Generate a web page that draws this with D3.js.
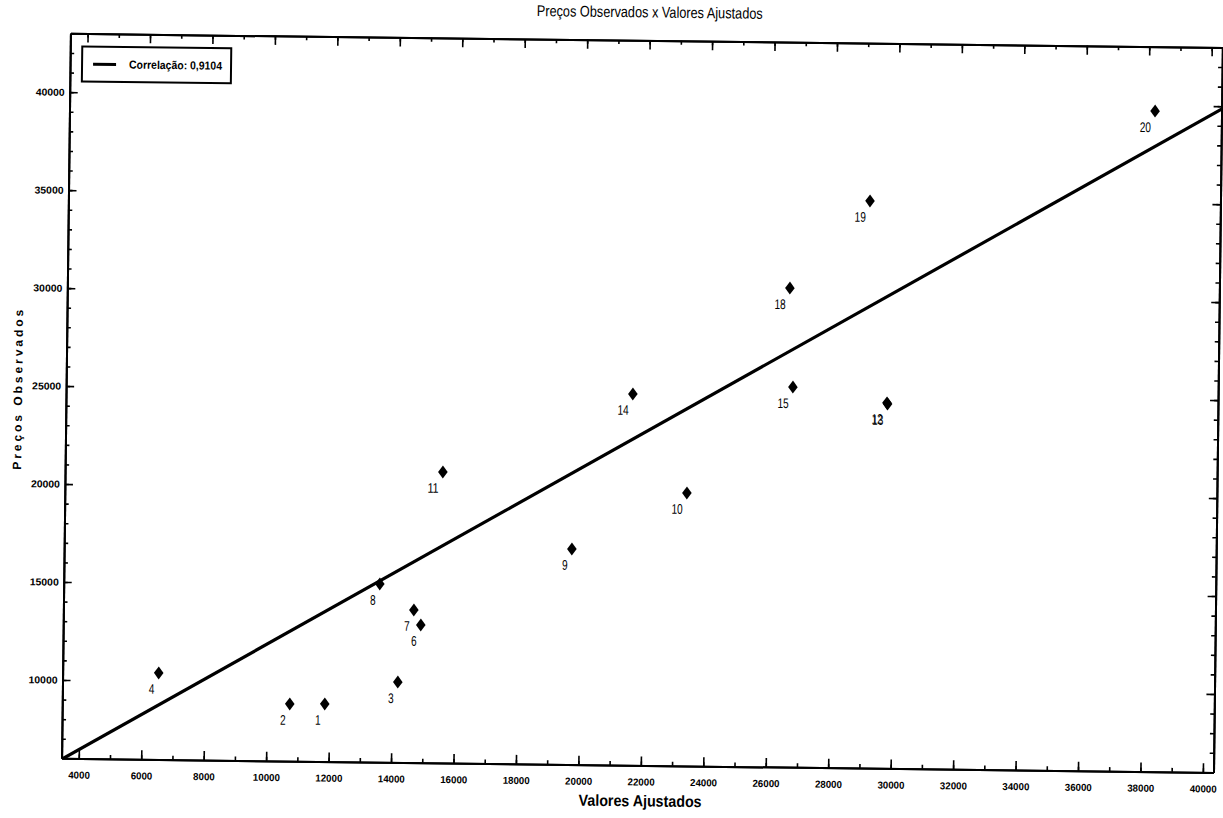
<!DOCTYPE html>
<html>
<head>
<meta charset="utf-8">
<script src="https://cdn.jsdelivr.net/npm/d3@7/dist/d3.min.js"></script>
<style>
  html, body { margin: 0; padding: 0; background: #fff; }
  svg { display: block; }
</style>
</head>
<body>
<svg id="chart" width="1223" height="818"></svg>
<script>
// ---- data ----
const pointLabels   = ["1","2","3","4","6","7","8","9","10","11","12","13","14","15","18","19","20"];
const fittedValues  = [11856,10735,14186,6527,14900,14672,13571,19708,23369,15547,29740,29760,21600,26722,26587,29118,38211];
const observedPrices= [8940,8920,10100,10420,13030,13790,15100,17000,19930,20850,24650,24600,24950,25400,30450,34950,39710];
const xTickValues   = [4000,6000,8000,10000,12000,14000,16000,18000,20000,22000,24000,26000,28000,30000,32000,34000,36000,38000,40000];
const yTickValues   = [10000,15000,20000,25000,30000,35000,40000];
const fitLineX      = [3450, 40340];
const fitLineY      = [5950, 39850];
const titleText     = "Preços Observados x Valores Ajustados";
const xTitle        = "Valores Ajustados";
const yTitle        = "Preços Observados";
const legendText    = "Correlação: 0,9104";

// ---- layout ----
const plotL = 66, plotR = 1218, plotT = 40, plotB = 765;
const FONT = "'Liberation Sans', Arial, sans-serif";

const svg = d3.select("#chart");
const g = svg.append("g").attr("transform", "rotate(0.7, 611, 400)");

const x = d3.scaleLinear().domain([3450, 40340]).range([plotL, plotR]);
const y = d3.scaleLinear().domain([6000, 43000]).range([plotB, plotT]);

const xMinor = d3.range(4000, 40001, 1000);
const yMinor = d3.range(7000, 43001, 1000);

function styleAxis(sel) {
  sel.select(".domain").attr("stroke", "#000").attr("stroke-width", 2);
  sel.selectAll(".tick line").attr("stroke", "#000").attr("stroke-width", 1.6);
}
function narrow(sel, perChar) {
  sel.attr("lengthAdjust", "spacingAndGlyphs")
     .attr("textLength", function() { return this.textContent.length * perChar; });
}

// minor ticks
g.append("g").attr("transform", `translate(0,${plotB})`)
  .call(d3.axisBottom(x).tickValues(xMinor).tickSizeInner(-4).tickSizeOuter(0).tickFormat(""))
  .call(styleAxis);
g.append("g").attr("transform", `translate(0,${plotT})`)
  .call(d3.axisTop(x).tickValues(xMinor).tickSizeInner(-4).tickSizeOuter(0).tickFormat(""))
  .call(styleAxis);
g.append("g").attr("transform", `translate(${plotL},0)`)
  .call(d3.axisLeft(y).tickValues(yMinor).tickSizeInner(-4).tickSizeOuter(0).tickFormat(""))
  .call(styleAxis);
g.append("g").attr("transform", `translate(${plotR},0)`)
  .call(d3.axisRight(y).tickValues(yMinor).tickSizeInner(-4).tickSizeOuter(0).tickFormat(""))
  .call(styleAxis);

// major ticks
const xb = g.append("g").attr("transform", `translate(0,${plotB})`)
  .call(d3.axisBottom(x).tickValues(xTickValues).tickSizeInner(-9).tickSizeOuter(0).tickFormat(d3.format("d")))
  .call(styleAxis);
g.append("g").attr("transform", `translate(0,${plotT})`)
  .call(d3.axisTop(x).tickValues(xTickValues).tickSizeInner(-9).tickSizeOuter(0).tickFormat(""))
  .call(styleAxis);
const yl = g.append("g").attr("transform", `translate(${plotL},0)`)
  .call(d3.axisLeft(y).tickValues(yTickValues).tickSizeInner(-8).tickSizeOuter(0).tickFormat(d3.format("d")))
  .call(styleAxis);
g.append("g").attr("transform", `translate(${plotR},0)`)
  .call(d3.axisRight(y).tickValues(yTickValues).tickSizeInner(-8).tickSizeOuter(0).tickFormat(""))
  .call(styleAxis);

xb.selectAll(".tick text")
  .attr("font-family", FONT).attr("font-size", 10).attr("font-weight", "bold").attr("fill", "#000")
  .attr("y", 13).call(narrow, 5.4);
yl.selectAll(".tick text")
  .attr("font-family", FONT).attr("font-size", 10).attr("font-weight", "bold").attr("fill", "#000")
  .attr("x", -5).call(narrow, 5.8);

// clip
svg.append("defs").append("clipPath").attr("id", "plotclip")
  .append("rect").attr("x", plotL).attr("y", plotT).attr("width", plotR - plotL).attr("height", plotB - plotT);

// fitted line
const lineData = fitLineX.map((v, i) => [v, fitLineY[i]]);
g.append("path")
  .attr("clip-path", "url(#plotclip)")
  .attr("d", d3.line().x(d => x(d[0])).y(d => y(d[1]))(lineData))
  .attr("stroke", "#000").attr("stroke-width", 3.2).attr("fill", "none");

// points
const pts = pointLabels.map((l, i) => ({ label: l, fx: fittedValues[i], ob: observedPrices[i] }));
const diamond = "M0,-6.5L4.8,0L0,6.5L-4.8,0Z";
g.append("g").selectAll("path").data(pts).join("path")
  .attr("d", diamond)
  .attr("transform", d => `translate(${x(d.fx)},${y(d.ob)})`)
  .attr("fill", "#000");
g.append("g").selectAll("text").data(pts).join("text")
  .attr("x", d => x(d.fx) - 4)
  .attr("y", d => y(d.ob) + 21)
  .attr("text-anchor", "end")
  .attr("font-family", FONT)
  .attr("font-size", 14)
  .attr("fill", "#000")
  .text(d => d.label)
  .call(narrow, 5.6);

// legend
const lg = g.append("g");
lg.append("rect").attr("x", 78).attr("y", 53).attr("width", 149).attr("height", 35)
  .attr("fill", "#fff").attr("stroke", "#000").attr("stroke-width", 2);
lg.append("line").attr("x1", 89).attr("x2", 112).attr("y1", 70.5).attr("y2", 70.5)
  .attr("stroke", "#000").attr("stroke-width", 3);
lg.append("text").attr("x", 125).attr("y", 74.5)
  .attr("font-family", FONT)
  .attr("font-size", 11.5).attr("font-weight", "bold").attr("fill", "#000")
  .attr("lengthAdjust", "spacingAndGlyphs").attr("textLength", 93)
  .text(legendText);

// titles
g.append("text").attr("x", 645).attr("y", 17).attr("text-anchor", "middle")
  .attr("font-family", FONT)
  .attr("font-size", 15.5).attr("fill", "#000")
  .attr("lengthAdjust", "spacingAndGlyphs").attr("textLength", 226)
  .text(titleText);
g.append("text").attr("x", 645).attr("y", 806).attr("text-anchor", "middle")
  .attr("font-family", FONT)
  .attr("font-size", 16).attr("font-weight", "bold").attr("fill", "#000")
  .attr("lengthAdjust", "spacingAndGlyphs").attr("textLength", 123)
  .text(xTitle);
g.append("text")
  .attr("transform", "translate(22,397) rotate(-90)")
  .attr("text-anchor", "middle")
  .attr("font-family", FONT)
  .attr("font-size", 12).attr("font-weight", "bold")
  .attr("lengthAdjust", "spacing").attr("textLength", 160)
  .attr("fill", "#000").text(yTitle);
</script>
</body>
</html>
